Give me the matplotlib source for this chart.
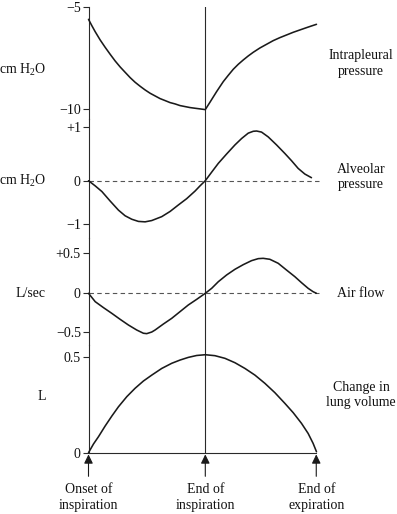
import numpy as np
import matplotlib
matplotlib.use("Agg")
import matplotlib.pyplot as plt

plt.rcParams['font.family'] = ['Liberation Serif', 'DejaVu Serif']
plt.rcParams['mathtext.fontset'] = 'custom'
plt.rcParams['mathtext.rm'] = 'Liberation Serif'
plt.rcParams['mathtext.it'] = 'Liberation Serif:italic'
plt.rcParams['mathtext.bf'] = 'Liberation Serif:bold'

# ---------------- data (time in arbitrary units; 0 = onset, 2 = end insp.) ----
t_end = 3.9
event_times = [0.0, 2.0, t_end]
event_labels = ["Onset of\ninspiration", "End of\ninspiration", "End of\nexpiration"]

t_pleural = [0.0, 0.057, 0.114, 0.2, 0.285, 0.371, 0.456, 0.542, 0.627, 0.713, 0.798, 0.884,
             0.969, 1.055, 1.14, 1.225, 1.311, 1.396, 1.482, 1.567, 1.653, 1.738, 1.823, 1.909, 2.0,
             2.04, 2.08, 2.137, 2.194, 2.251, 2.308, 2.394, 2.479, 2.565, 2.65, 2.735, 2.821,
             2.935, 3.049, 3.163, 3.277, 3.391, 3.505, 3.619, 3.733, 3.818, 3.904]
v_pleural = [-5.616, -5.924, -6.217, -6.623, -6.98, -7.321, -7.646, -7.939, -8.199, -8.459, -8.686, -8.881,
             -9.06, -9.222, -9.352, -9.482, -9.579, -9.677, -9.742, -9.823, -9.872, -9.92, -9.953, -9.985, -10.02,
             -9.839, -9.66, -9.40, -9.141, -8.897, -8.654, -8.345, -8.052, -7.808, -7.598, -7.403, -7.224,
             -7.013, -6.834, -6.655, -6.509, -6.379, -6.249, -6.135, -6.022, -5.94, -5.859]

t_alv = [0.0, 0.115, 0.229, 0.371, 0.513, 0.627, 0.741, 0.855, 0.969, 1.083, 1.254, 1.397,
         1.539, 1.681, 1.824, 1.909, 2.0, 2.109, 2.223, 2.365, 2.508, 2.622, 2.735, 2.821,
         2.878, 2.963, 3.077, 3.22, 3.362, 3.476, 3.59, 3.704, 3.818]
v_alv = [0.0, -0.12, -0.25, -0.47, -0.68, -0.81, -0.89, -0.94, -0.95, -0.92, -0.83, -0.71,
         -0.56, -0.415, -0.24, -0.12, 0.0, 0.16, 0.325, 0.50, 0.67, 0.79, 0.89, 0.925,
         0.93, 0.91, 0.82, 0.67, 0.51, 0.375, 0.23, 0.125, 0.056]

t_flow = [0.0, 0.115, 0.257, 0.399, 0.542, 0.684, 0.826, 0.94, 0.997, 1.083, 1.14, 1.282,
          1.425, 1.567, 1.709, 1.852, 2.0, 2.109, 2.223, 2.365, 2.508, 2.65, 2.792, 2.906,
          2.991, 3.105, 3.248, 3.39, 3.533, 3.647, 3.761, 3.846, 3.903]
v_flow = [0.0, -0.109, -0.187, -0.261, -0.339, -0.413, -0.478, -0.52, -0.525, -0.504, -0.478, -0.40,
          -0.326, -0.239, -0.152, -0.079, 0.0, 0.062, 0.145, 0.229, 0.30, 0.358, 0.408, 0.433,
          0.437, 0.425, 0.375, 0.291, 0.208, 0.133, 0.062, 0.02, 0.0]

t_vol = [0.0, 0.086, 0.171, 0.285, 0.399, 0.513, 0.656, 0.798, 0.94, 1.083, 1.254, 1.425,
         1.567, 1.709, 1.852, 2.0, 2.165, 2.337, 2.508, 2.679, 2.85, 3.02, 3.191, 3.362,
         3.505, 3.647, 3.761, 3.846, 3.904]
v_vol = [0.0, 0.046, 0.084, 0.14, 0.192, 0.241, 0.294, 0.338, 0.376, 0.407, 0.442, 0.469,
         0.486, 0.50, 0.51, 0.514, 0.509, 0.495, 0.472, 0.442, 0.407, 0.364, 0.315, 0.259,
         0.21, 0.154, 0.101, 0.049, 0.005]

ticks_pleural = [-10, -5]
ticklabels_pleural = ["\u221210", "\u22125"]
ticks_alv = [-1, 0, 1]
ticklabels_alv = ["\u22121", "0", "+1"]
ticks_flow = [-0.5, 0, 0.5]
ticklabels_flow = ["\u22120.5", "0", "+0.5"]
ticks_vol = [0, 0.5]
ticklabels_vol = ["0", "0.5"]

unit_labels = ["cm H$_2$O", "cm H$_2$O", "L/sec", "L"]
panel_names = ["Intrapleural\npressure", "Alveolar\npressure", "Air flow", "Change in\nlung volume"]

# ---------------- layout ----------------
W, H = 397, 514
fig = plt.figure(figsize=(W / 100, H / 100), dpi=100)
x_left, x_px = 88.5, 58.4
ax_w = t_end * x_px

def add_panel(top_px, bot_px):
    return fig.add_axes([x_left / W, 1 - bot_px / H, ax_w / W, (bot_px - top_px) / H])

def piecewise(kn):
    fwd = lambda y: np.where(np.asarray(y) >= 0, y, np.asarray(y) * kn)
    inv = lambda y: np.where(np.asarray(y) >= 0, y, np.asarray(y) / kn)
    return fwd, inv

LC = '#1a1a1a'
AC = '#2a2a2a'
FS = 10

ax1 = add_panel(6.7, 119)
ax2 = add_panel(119, 238)
ax3 = add_panel(238, 345)
ax4 = add_panel(345, 452.7)
axes = [ax1, ax2, ax3, ax4]

ax1.set_ylim(-10.478, -5)
ax2.set_yscale('function', functions=piecewise(43.3 / 53.4))
ax2.set_ylim(-1.323, 1.155)
ax3.set_yscale('function', functions=piecewise(76.8 / 80.0))
ax3.set_ylim(-0.673, 0.691)
ax4.set_ylim(0, 0.565)

for ax, tt, vv in [(ax1, t_pleural, v_pleural), (ax2, t_alv, v_alv),
                   (ax3, t_flow, v_flow), (ax4, t_vol, v_vol)]:
    ax.plot(tt, vv, color=LC, lw=1.15, solid_capstyle='round', solid_joinstyle='round',
            clip_on=False, zorder=3)

for ax in (ax2, ax3):
    ax.plot([0, 3.94], [0, 0], color='#555555', lw=0.8, linestyle=(0, (4, 3)), clip_on=False, zorder=1)

tick_sets = [(ticks_pleural, ticklabels_pleural), (ticks_alv, ticklabels_alv),
             (ticks_flow, ticklabels_flow), (ticks_vol, ticklabels_vol)]
for ax, (tk, tl) in zip(axes, tick_sets):
    ax.set_xlim(0, t_end)
    ax.patch.set_alpha(0)
    for s in ('top', 'right', 'bottom'):
        ax.spines[s].set_visible(False)
    ax.spines['left'].set_color(AC)
    ax.spines['left'].set_linewidth(0.8)
    ax.set_yticks(tk)
    ax.set_yticklabels(tl)
    ax.yaxis.set_minor_locator(matplotlib.ticker.NullLocator())
    ax.tick_params(axis='y', direction='out', length=4, width=0.8, color=AC,
                   labelsize=FS, pad=1.5, labelcolor='#111111')
    ax.set_xticks([])
    ax.axvline(2.0, color=AC, lw=0.8, zorder=1)

ax4.spines['bottom'].set_visible(True)
ax4.spines['bottom'].set_color(AC)
ax4.spines['bottom'].set_linewidth(0.8)

# arrows and event labels
for t, lab in zip(event_times, event_labels):
    ax4.annotate('', xy=(t, 0), xycoords='data', xytext=(0, -17), textcoords='offset points',
                 arrowprops=dict(arrowstyle='-|>,head_length=0.45,head_width=0.22', color=LC,
                                 lw=0.8, shrinkA=0, shrinkB=1.2, mutation_scale=12),
                 annotation_clip=False)
    xpx = x_left + t * x_px
    fig.text(xpx / W, 1 - 483 / H, lab, ha='center', va='top', fontsize=FS,
             linespacing=1.25, color='#111111')

# unit labels on the left
for lab, ypx in zip(unit_labels, [70, 180.7, 293.3, 396]):
    fig.text(46 / W, 1 - ypx / H, lab, ha='right', va='center', fontsize=FS, color='#111111')

# panel names on the right
for lab, ypx in zip(panel_names, [63.5, 177, 293.3, 395]):
    fig.text(361 / W, 1 - ypx / H, lab, ha='center', va='center', fontsize=FS,
             linespacing=1.2, color='#111111')

fig.savefig('out.png', dpi=100)
